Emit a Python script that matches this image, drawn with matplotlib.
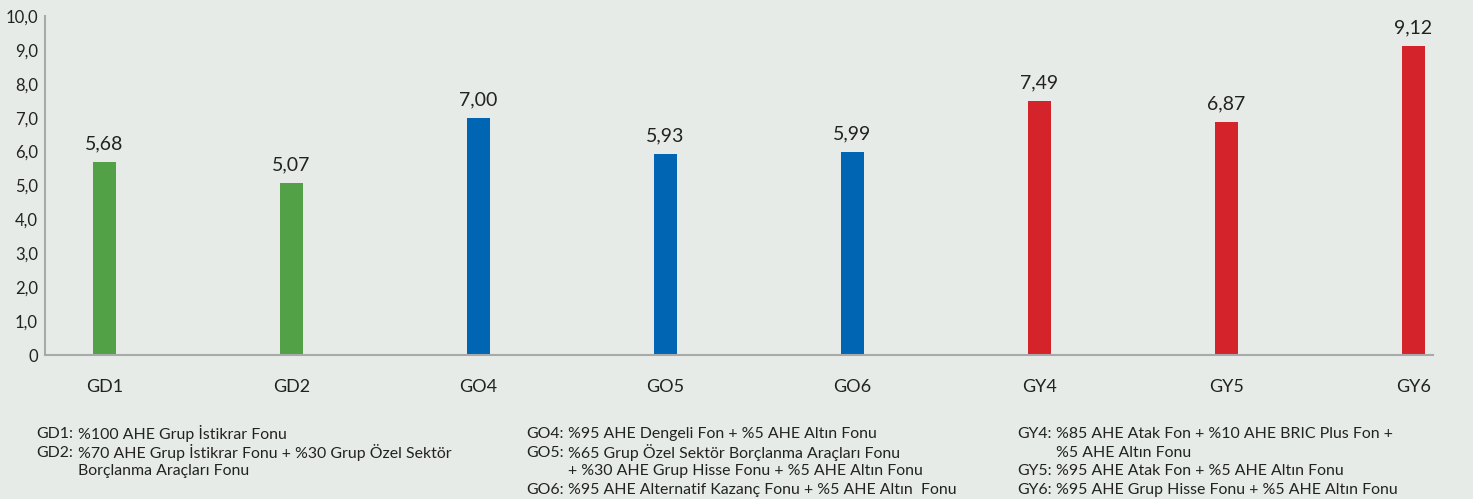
import matplotlib.pyplot as plt

# fon getirileri (%)
funds = ["GD1", "GD2", "GO4", "GO5", "GO6", "GY4", "GY5", "GY6"]
returns = [5.68, 5.07, 7.00, 5.93, 5.99, 7.49, 6.87, 9.12]
groups = ["GD", "GD", "GO", "GO", "GO", "GY", "GY", "GY"]
yticks = [0, 1, 2, 3, 4, 5, 6, 7, 8, 9, 10]

group_colors = {"GD": "#52a146", "GO": "#0065b3", "GY": "#d5232b"}
bg = "#e7ebe8"

notes_left = [
    ("GD1:", "%100 AHE Grup İstikrar Fonu"),
    ("GD2:", "%70 AHE Grup İstikrar Fonu + %30 Grup Özel Sektör"),
    ("", "Borçlanma Araçları Fonu"),
]
notes_mid = [
    ("GO4:", "%95 AHE Dengeli Fon + %5 AHE Altın Fonu"),
    ("GO5:", "%65 Grup Özel Sektör Borçlanma Araçları Fonu"),
    ("", "+ %30 AHE Grup Hisse Fonu + %5 AHE Altın Fonu"),
    ("GO6:", "%95 AHE Alternatif Kazanç Fonu + %5 AHE Altın  Fonu"),
]
notes_right = [
    ("GY4:", "%85 AHE Atak Fon + %10 AHE BRIC Plus Fon +"),
    ("", "%5 AHE Altın Fonu"),
    ("GY5:", "%95 AHE Atak Fon + %5 AHE Altın Fonu"),
    ("GY6:", "%95 AHE Grup Hisse Fonu + %5 AHE Altın Fonu"),
]

plt.rcParams['font.family'] = ['Lato', 'DejaVu Sans']
W, H = 1473, 499
fig = plt.figure(figsize=(W / 100, H / 100), dpi=100, facecolor=bg)
ax = fig.add_axes([45 / W, 1 - 355 / H, (1433 - 45) / W, (355 - 16) / H])
ax.set_facecolor(bg)

x = list(range(len(funds)))
colors = [group_colors[g] for g in groups]
bars = ax.bar(x, returns, width=0.123, color=colors, zorder=2)

for xi, v in zip(x, returns):
    ax.annotate(f"{v:.2f}".replace(".", ","), (xi, v), xytext=(0, 7),
                textcoords="offset points", ha="center", va="bottom",
                fontsize=14, color="#222222")

ax.set_xlim(-0.318, 7.104)
ax.set_ylim(0, 10)
ax.set_xticks(x)
ax.set_xticklabels(funds, fontsize=13, color="#222222")
ax.tick_params(axis="x", length=0, pad=17)
ax.set_yticks(yticks)
ax.set_yticklabels(["0" if t == 0 else f"{t:.1f}".replace(".", ",") for t in yticks],
                   fontsize=12, color="#222222")
ax.tick_params(axis="y", length=0, pad=5)

for s in ["top", "right"]:
    ax.spines[s].set_visible(False)
for s in ["left", "bottom"]:
    ax.spines[s].set_color("#a8aaa9")
    ax.spines[s].set_linewidth(1.5)


def put_notes(notes, x0, x1, y0):
    for i, (code, txt) in enumerate(notes):
        y = 1 - (y0 + i * 18.7) / H
        if code:
            fig.text(x0 / W, y, code, fontsize=11.4, color="#222222", va="center", ha="right")
        fig.text(x1 / W, y, txt, fontsize=11.4, color="#222222", va="center", ha="left")


put_notes(notes_left, 73, 78, 434)
put_notes(notes_mid, 564, 568, 434)
put_notes(notes_right, 1052, 1056, 434)

fig.savefig("out.png", dpi=100, facecolor=bg)
